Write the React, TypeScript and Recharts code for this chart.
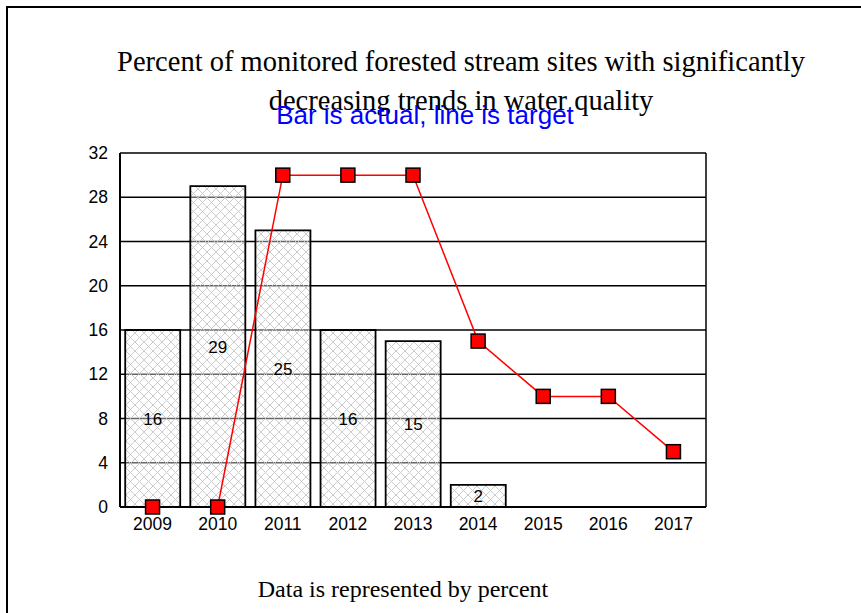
import { Bar, CartesianGrid, ComposedChart, LabelList, Line, XAxis, YAxis } from "recharts";

const years = ['2009', '2010', '2011', '2012', '2013', '2014', '2015', '2016', '2017'];
const actual = [16, 29, 25, 16, 15, 2, null, null, null];
const target = [0, 0, 30, 30, 30, 15, 10, 10, 5];
const yTicks = [0, 4, 8, 12, 16, 20, 24, 28, 32];

const data = years.map((year, i) => ({ year, actual: actual[i], target: target[i] }));

const SquareDot = ({ cx, cy }: any) => {
  if (cx == null || cy == null) return null;
  return <rect x={cx - 7} y={cy - 7} width={14} height={14} fill="#ff0000" stroke="#000" strokeWidth={1.5} />;
};

export default function App() {
  return (
    <div style={{ position: 'fixed', left: 0, top: 0, width: 861, height: 613, background: '#fff', overflow: 'hidden' }}>
      <div style={{ position: 'absolute', left: 6, top: 6, width: 900, height: 700, borderLeft: '2px solid #000', borderTop: '2px solid #000' }} />
      <div style={{ position: 'absolute', left: 0, width: 922, top: 42, textAlign: 'center', fontFamily: '"Liberation Serif", "Times New Roman", serif', fontSize: 28.5, lineHeight: '39px', color: '#000' }}>
        Percent of monitored forested stream sites with significantly<br />decreasing trends in water quality
      </div>
      <div style={{ position: 'absolute', left: 0, width: 850, top: 100, textAlign: 'center', fontFamily: '"Liberation Sans", Arial, sans-serif', fontSize: 26, lineHeight: '30px', color: '#0000ff' }}>
        Bar is actual, line is target
      </div>
      <div style={{ position: 'absolute', left: 0, width: 806, top: 575, textAlign: 'center', fontFamily: '"Liberation Serif", "Times New Roman", serif', fontSize: 24, lineHeight: '28px', color: '#000' }}>
        Data is represented by percent
      </div>
      <div style={{ position: 'absolute', left: 0, top: 0 }}>
        <ComposedChart width={861} height={613} data={data} margin={{ top: 153, right: 155, bottom: 76, left: 80 }} barCategoryGap="8%">
          <defs>
            <pattern id="xhatch" patternUnits="userSpaceOnUse" width={9} height={9}>
              <rect width={9} height={9} fill="#ffffff" fillOpacity={0.4} />
              <path d="M0,0 L9,9 M9,0 L0,9" stroke="#c6c6c6" strokeWidth={0.9} />
            </pattern>
          </defs>
          <CartesianGrid
            stroke="#000"
            strokeWidth={1.5}
            verticalCoordinatesGenerator={({ offset }: any) => [offset.left, offset.left + offset.width]}
          />
          <XAxis dataKey="year" axisLine={{ stroke: '#000', strokeWidth: 2 }} tickLine={false} height={30}
            tick={{ fill: '#000', fontSize: 17.5, fontFamily: '"Liberation Sans", Arial, sans-serif' }} tickMargin={5} />
          <YAxis domain={[0, 32]} ticks={yTicks} width={40} axisLine={{ stroke: '#000', strokeWidth: 2 }} tickLine={false}
            tick={{ fill: '#000', fontSize: 17.5, fontFamily: '"Liberation Sans", Arial, sans-serif' }} tickMargin={6} interval={0} />
          <Bar dataKey="actual" fill="url(#xhatch)" stroke="#000" strokeWidth={1.8} isAnimationActive={false}>
            <LabelList dataKey="actual" position="center" fill="#000" fontSize={17} fontFamily='"Liberation Sans", Arial, sans-serif' />
          </Bar>
          <Line dataKey="target" stroke="#ff0000" strokeWidth={1.5} dot={<SquareDot />} activeDot={false} isAnimationActive={false} />
        </ComposedChart>
      </div>
    </div>
  );
}
